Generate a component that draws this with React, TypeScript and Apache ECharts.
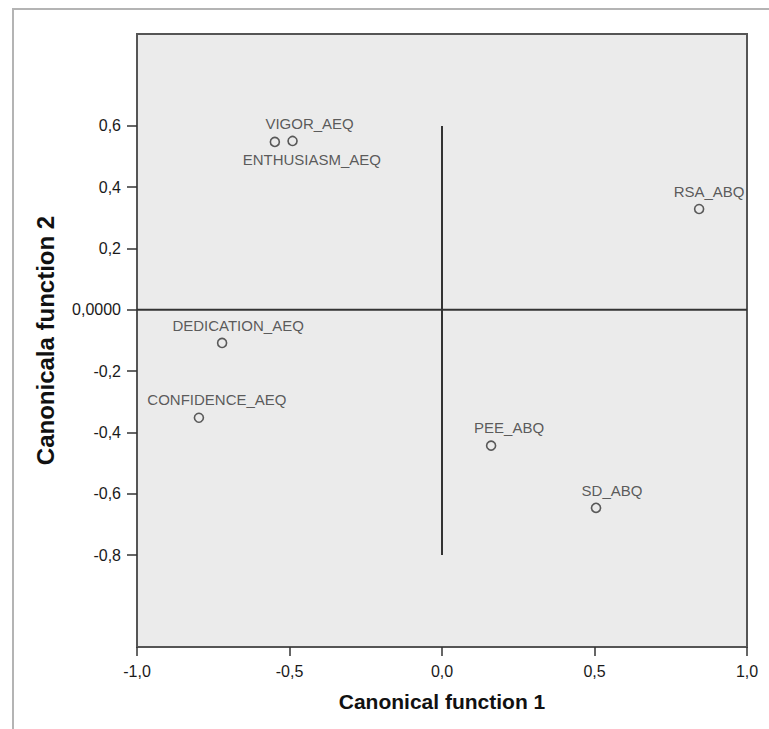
import React, { useEffect, useRef } from "react";
import * as echarts from "echarts";

// ---- data ----
const varNames = [
  "VIGOR_AEQ",
  "ENTHUSIASM_AEQ",
  "RSA_ABQ",
  "DEDICATION_AEQ",
  "CONFIDENCE_AEQ",
  "PEE_ABQ",
  "SD_ABQ",
];
const function1 = [-0.49, -0.548, 0.843, -0.721, -0.797, 0.161, 0.505];
const function2 = [0.551, 0.548, 0.329, -0.108, -0.352, -0.443, -0.646];

const xTicks = [-1.0, -0.5, 0.0, 0.5, 1.0];
const yTicks = [-0.8, -0.6, -0.4, -0.2, 0.0, 0.2, 0.4, 0.6];

// reference lines (x = 0 and y = 0)
const hLine = [
  [-1, 0],
  [1, 0],
];
const vLine = [
  [0, -0.8],
  [0, 0.6],
];

const X_MIN = -1;
const X_MAX = 1;
const Y_MIN = -1.1;
const Y_MAX = 0.9;

// label placement (styling)
const labelPlacement: Record<string, { position: string; offset: number[] }> = {
  VIGOR_AEQ: { position: "top", offset: [17, 0] },
  ENTHUSIASM_AEQ: { position: "bottom", offset: [37, 0] },
  RSA_ABQ: { position: "top", offset: [10, 0] },
  DEDICATION_AEQ: { position: "top", offset: [16, 0] },
  CONFIDENCE_AEQ: { position: "top", offset: [18, 0] },
  PEE_ABQ: { position: "top", offset: [18, 0] },
  SD_ABQ: { position: "top", offset: [16, 0] },
};

const fmt = (v: number, digitsZero: number, digits: number) => {
  if (Math.abs(v) < 1e-9) return (0).toFixed(digitsZero).replace(".", ",");
  return v.toFixed(digits).replace(".", ",");
};

export default function App() {
  const ref = useRef<HTMLDivElement>(null);
  useEffect(() => {
    if (!ref.current) return;
    const chart = echarts.init(ref.current, null, { renderer: "svg" });

    const gridLeft = 137;
    const gridTop = 34;
    const gridWidth = 610;
    const gridHeight = 613;
    const unitY = gridHeight / (Y_MAX - Y_MIN);
    const tMin = yTicks[0];
    const tMax = yTicks[yTicks.length - 1];
    const tickGridTop = gridTop + (Y_MAX - tMax) * unitY;
    const tickGridHeight = (tMax - tMin) * unitY;

    const font = "Liberation Sans, Arial, sans-serif";

    const points = varNames.map((n, i) => ({
      name: n,
      value: [function1[i], function2[i]],
      label: {
        show: true,
        position: labelPlacement[n].position,
        offset: labelPlacement[n].offset,
        distance: 5,
      },
    }));

    chart.setOption({
      animation: false,
      backgroundColor: "#ffffff",
      textStyle: { fontFamily: font },
      graphic: [
        {
          type: "rect",
          shape: { x: 13, y: 9, width: 1000, height: 1000 },
          style: { fill: "none", stroke: "#b4b4b4", lineWidth: 2 },
          silent: true,
          z: -10,
        },
      ],
      grid: [
        {
          left: gridLeft,
          top: gridTop,
          width: gridWidth,
          height: gridHeight,
          show: true,
          backgroundColor: "#ebebeb",
          borderColor: "#555555",
          borderWidth: 2,
        },
        {
          left: gridLeft,
          top: tickGridTop,
          width: gridWidth,
          height: tickGridHeight,
          show: false,
        },
      ],
      xAxis: [
        {
          gridIndex: 0,
          type: "value",
          min: X_MIN,
          max: X_MAX,
          interval: xTicks[1] - xTicks[0],
          axisLine: { show: false, onZero: false },
          axisTick: { show: true, length: 9, lineStyle: { color: "#333", width: 1.5 } },
          axisLabel: {
            show: true,
            fontSize: 16,
            color: "#1a1a1a",
            margin: 16,
            showMinLabel: true,
            showMaxLabel: true,
            formatter: (v: number) => fmt(v, 1, 1),
          },
          splitLine: { show: false },
          name: "Canonical function 1",
          nameLocation: "middle",
          nameGap: 44,
          nameTextStyle: { fontSize: 21, fontWeight: "bold", color: "#111" },
        },
        {
          gridIndex: 1,
          type: "value",
          min: X_MIN,
          max: X_MAX,
          show: false,
          axisLine: { onZero: false },
        },
      ],
      yAxis: [
        {
          gridIndex: 0,
          type: "value",
          min: Y_MIN,
          max: Y_MAX,
          axisLine: { show: false, onZero: false },
          axisTick: { show: false },
          axisLabel: { show: false },
          splitLine: { show: false },
          name: "Canonicala function 2",
          nameLocation: "middle",
          nameRotate: 90,
          nameGap: 80,
          nameTextStyle: { fontSize: 24, fontWeight: "bold", color: "#111" },
        },
        {
          gridIndex: 1,
          type: "value",
          min: tMin,
          max: tMax,
          interval: yTicks[1] - yTicks[0],
          axisLine: { show: false, onZero: false },
          axisTick: { show: true, length: 10, lineStyle: { color: "#333", width: 1.5 } },
          axisLabel: {
            show: true,
            fontSize: 16,
            color: "#1a1a1a",
            margin: 16,
            showMinLabel: true,
            showMaxLabel: true,
            formatter: (v: number) => fmt(v, 4, 1),
          },
          splitLine: { show: false },
        },
      ],
      series: [
        {
          type: "line",
          xAxisIndex: 0,
          yAxisIndex: 0,
          data: hLine,
          symbol: "none",
          silent: true,
          lineStyle: { color: "#333", width: 2 },
          z: 1,
        },
        {
          type: "line",
          xAxisIndex: 0,
          yAxisIndex: 0,
          data: vLine,
          symbol: "none",
          silent: true,
          lineStyle: { color: "#333", width: 2 },
          z: 1,
        },
        {
          type: "scatter",
          xAxisIndex: 0,
          yAxisIndex: 0,
          data: points,
          symbol: "circle",
          symbolSize: 9,
          itemStyle: { color: "rgba(0,0,0,0)", borderColor: "#333", borderWidth: 1.6 },
          label: {
            show: true,
            formatter: "{b}",
            fontSize: 15,
            color: "#333",
          },
          z: 3,
        },
      ],
    });
    return () => chart.dispose();
  }, []);
  return (
    <div
      ref={ref}
      style={{ position: "absolute", left: 0, top: 0, width: 769, height: 729 }}
    />
  );
}
